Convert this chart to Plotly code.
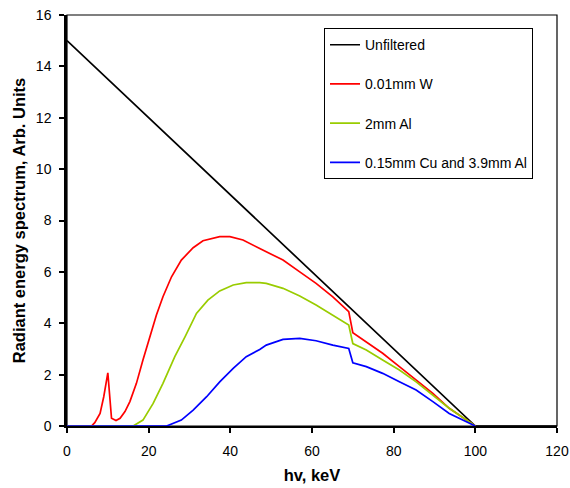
import plotly.graph_objects as go

# Unfiltered
x_unf = [0, 100, 120]
y_unf = [15.0, 0.0, 0.0]

# 0.01mm W
x_w = [0, 6.0, 6.8, 8.1, 9.0, 10.0, 10.9, 12.0, 13.0, 14.2, 15.4, 17.0, 18.6, 20.3, 21.9, 23.5, 25.6, 28.0,
       30.9, 33.3, 37.4, 39.9, 43.1, 47.2, 52.9, 57.0, 61.0, 65.1, 69.0, 70.0, 73.3, 77.3, 81.4, 85.5,
       89.6, 93.6, 100]
y_w = [0, 0, 0.13, 0.49, 1.14, 2.07, 0.30, 0.21, 0.30, 0.56, 0.95, 1.66, 2.57, 3.48, 4.32, 5.03, 5.81, 6.46,
       6.94, 7.21, 7.37, 7.37, 7.24, 6.91, 6.46, 6.00, 5.55, 5.03, 4.45, 3.63, 3.28, 2.83, 2.31, 1.79,
       1.27, 0.69, 0]

# 2mm Al
x_al = [0, 16.2, 18.6, 21.1, 23.5, 26.4, 28.9, 31.7, 34.5, 37.4, 40.7, 43.9, 47.2, 48.8, 52.9, 57.0,
        61.0, 65.1, 69.0, 70.0, 73.3, 77.3, 81.4, 85.5, 89.6, 93.6, 100]
y_al = [0, 0, 0.23, 0.88, 1.66, 2.70, 3.47, 4.38, 4.90, 5.26, 5.49, 5.58, 5.58, 5.55, 5.36, 5.06,
        4.71, 4.32, 3.93, 3.21, 2.96, 2.57, 2.18, 1.72, 1.21, 0.69, 0]

# 0.15mm Cu and 3.9mm Al
x_cu = [0, 24.4, 28.0, 30.9, 34.2, 37.4, 40.7, 43.9, 47.2, 48.8, 52.9, 57.0, 61.0, 65.1, 69.0, 70.0,
        73.3, 77.3, 81.4, 85.5, 89.6, 93.6, 100]
y_cu = [0, 0, 0.23, 0.62, 1.14, 1.72, 2.24, 2.70, 2.98, 3.15, 3.37, 3.41, 3.32, 3.15, 3.02, 2.46,
        2.31, 2.05, 1.72, 1.40, 0.95, 0.49, 0]

names = ["Unfiltered", "0.01mm W", "2mm Al", "0.15mm Cu and 3.9mm Al"]
colors = ["#000000", "#FF0000", "#99CC00", "#0000FF"]
series = [(x_unf, y_unf), (x_w, y_w), (x_al, y_al), (x_cu, y_cu)]

x_ticks = [0, 20, 40, 60, 80, 100, 120]
y_ticks = [0, 2, 4, 6, 8, 10, 12, 14, 16]

fig = go.Figure()
for i, ((xs, ys), n, c) in enumerate(zip(series, names, colors)):
    fig.add_trace(go.Scatter(x=xs, y=ys, mode="lines", name=n,
                             line=dict(color=c, width=1.7),
                             legendgroup=str(i)))

font = "Liberation Sans, Arial, sans-serif"
fig.update_layout(
    width=570, height=488,
    margin=dict(l=67, r=13, t=15, b=62, autoexpand=False),
    paper_bgcolor="white", plot_bgcolor="white",
    font=dict(family=font, size=14, color="black"),
    showlegend=True,
    legend=dict(x=0.5245, y=0.968, xanchor="left", yanchor="top",
                bordercolor="black", borderwidth=1, bgcolor="white",
                tracegroupgap=18, font=dict(size=14), itemwidth=30),
    xaxis=dict(range=[0, 120], tickvals=x_ticks, showgrid=False, zeroline=False,
               showline=True, linecolor="black", linewidth=2, mirror=False,
               ticks="outside", ticklen=5, tickwidth=2, tickcolor="black",
               ticklabelstandoff=6, ticklabeloverflow="allow",
               title=dict(text="<b>hv, keV</b>", font=dict(size=16.5), standoff=12)),
    yaxis=dict(range=[0, 16], tickvals=y_ticks, showgrid=False, zeroline=False,
               showline=True, linecolor="black", linewidth=2.5, mirror=False,
               ticks="outside", ticklen=5, tickwidth=2, tickcolor="black",
               ticklabelstandoff=5, ticklabeloverflow="allow",
               title=dict(text="<b>Radiant energy spectrum, Arb. Units</b>", font=dict(size=16.5), standoff=7)),
    shapes=[dict(type="rect", xref="paper", yref="paper", x0=0, y0=0, x1=1, y1=1,
                 line=dict(color="black", width=1.2), layer="below")],
)

fig.write_html("out.html", config={"displayModeBar": False},
               post_script="document.body.style.margin='0';document.body.style.overflow='hidden';")
